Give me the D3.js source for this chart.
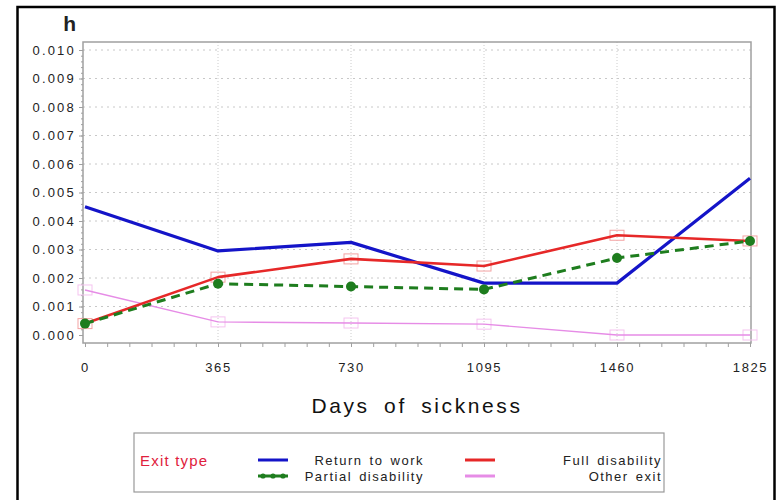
<!DOCTYPE html>
<html>
<head>
<meta charset="utf-8">
<script src="https://cdn.jsdelivr.net/npm/d3@7"></script>
<style>
  body { margin: 0; background: #fff; }
  svg { display: block; font-family: "Liberation Sans", Arial, sans-serif; }
</style>
</head>
<body>
<div id="chart"></div>
<script>
// days on the x axis
const days = [0, 365, 730, 1095, 1460, 1825];
const yTicks = [0, 0.001, 0.002, 0.003, 0.004, 0.005, 0.006, 0.007, 0.008, 0.009, 0.010];

// hazard per exit type
const returnToWork = [0.0045, 0.00295, 0.00325, 0.00182, 0.00182, 0.0055];
const fullDisability = [0.0004, 0.00203, 0.00267, 0.00242, 0.0035, 0.0033];
const partialDisability = [0.0004, 0.0018, 0.0017, 0.0016, 0.0027, 0.0033];
const otherExit = [0.00158, 0.00046, 0.00042, 0.00038, 0.0, 0.0];

const seriesNames = [`Return to work`, `Full disability`, `Partial disability`, `Other exit`];

const width = 778;
const height = 500;
const margin = { top: 42, right: 25, bottom: 157, left: 83 };

const series = [
  { name: seriesNames[0], values: returnToWork, color: `#1414c8`, width: 3.2, dash: null, marker: null },
  { name: seriesNames[1], values: fullDisability, color: `#e62828`, width: 2.6, dash: null, marker: `square`, markerColor: `#f3a3a3` },
  { name: seriesNames[2], values: partialDisability, color: `#1e7d1e`, width: 3, dash: `9,6`, marker: `dot` },
  { name: seriesNames[3], values: otherExit, color: `#e68ce6`, width: 1.4, dash: null, marker: `square`, markerColor: `#f5c4f0` },
];

const svg = d3.select(`#chart`)
  .append(`svg`)
  .attr(`width`, width)
  .attr(`height`, height);

// outer black border (bottom runs off the picture)
svg.append(`rect`)
  .attr(`x`, 17.5).attr(`y`, 7)
  .attr(`width`, 757).attr(`height`, 520)
  .attr(`fill`, `none`)
  .attr(`stroke`, `#000`)
  .attr(`stroke-width`, 2.5);

const frameLeft = margin.left;
const frameRight = width - margin.right - 2;
const frameTop = margin.top;
const frameBottom = height - margin.bottom;

const xScale = d3.scaleLinear()
  .domain([0, 1825])
  .range([frameLeft + 2, frameRight - 1]);

const yScale = d3.scaleLinear()
  .domain([0, 0.010])
  .range([frameBottom - 8, frameTop + 8]);

const bounds = svg.append(`g`);

// grid
bounds.append(`g`)
  .selectAll(`line`)
  .data(yTicks.slice(1))
  .join(`line`)
  .attr(`x1`, frameLeft).attr(`x2`, frameRight)
  .attr(`y1`, (d) => yScale(d)).attr(`y2`, (d) => yScale(d))
  .attr(`stroke`, `#c8c8c8`)
  .attr(`stroke-width`, 1)
  .attr(`stroke-dasharray`, `2,4`);

bounds.append(`g`)
  .selectAll(`line`)
  .data(days.slice(1, -1))
  .join(`line`)
  .attr(`x1`, (d) => xScale(d)).attr(`x2`, (d) => xScale(d))
  .attr(`y1`, frameTop).attr(`y2`, frameBottom)
  .attr(`stroke`, `#cccccc`)
  .attr(`stroke-width`, 1)
  .attr(`stroke-dasharray`, `1,2`);

// frame
bounds.append(`rect`)
  .attr(`x`, frameLeft).attr(`y`, frameTop)
  .attr(`width`, frameRight - frameLeft)
  .attr(`height`, frameBottom - frameTop)
  .attr(`fill`, `none`)
  .attr(`stroke`, `#a0a0a0`)
  .attr(`stroke-width`, 1.5);

// y axis
const yAxis = bounds.append(`g`)
  .attr(`transform`, `translate(${frameLeft}, 0)`)
  .call(d3.axisLeft(yScale).tickValues(yTicks).tickSize(4).tickPadding(3).tickFormat(d3.format(`.3f`)));
bounds.append(`g`)
  .attr(`transform`, `translate(${frameLeft}, 0)`)
  .call(d3.axisLeft(yScale).tickValues(d3.range(0, 0.0101, 0.0002)).tickSize(2).tickFormat(``))
  .call((g) => g.select(`.domain`).remove())
  .selectAll(`line`).attr(`stroke`, `#a0a0a0`);
yAxis.select(`.domain`).remove();
yAxis.selectAll(`line`).attr(`stroke`, `#a0a0a0`);
yAxis.selectAll(`text`)
  .attr(`fill`, `#222`)
  .style(`font-size`, `13px`)
  .style(`letter-spacing`, `2.2px`);

// x axis
const minorDays = d3.range(0, 1826, 365 / 6);
const xAxis = bounds.append(`g`)
  .attr(`transform`, `translate(0, ${frameBottom})`)
  .call(d3.axisBottom(xScale).tickValues(days).tickSize(4).tickPadding(16).tickFormat(d3.format(`d`)));
bounds.append(`g`)
  .attr(`transform`, `translate(0, ${frameBottom})`)
  .call(d3.axisBottom(xScale).tickValues(minorDays).tickSize(4).tickFormat(``))
  .call((g) => g.select(`.domain`).remove())
  .selectAll(`line`).attr(`stroke`, `#a0a0a0`);
xAxis.select(`.domain`).remove();
xAxis.selectAll(`line`).attr(`stroke`, `#a0a0a0`);
xAxis.selectAll(`text`)
  .attr(`fill`, `#222`)
  .style(`font-size`, `13px`)
  .style(`letter-spacing`, `1.6px`);

// axis titles
svg.append(`text`)
  .attr(`x`, 76).attr(`y`, 31)
  .attr(`text-anchor`, `end`)
  .style(`font-size`, `21px`)
  .style(`font-weight`, `bold`)
  .attr(`fill`, `#222`)
  .text(`h`);

svg.append(`text`)
  .attr(`x`, (frameLeft + frameRight) / 2)
  .attr(`y`, 413)
  .attr(`text-anchor`, `middle`)
  .style(`font-size`, `21px`)
  .style(`letter-spacing`, `2.6px`)
  .style(`word-spacing`, `6px`)
  .attr(`fill`, `#111`)
  .text(`Days of sickness`);

// lines
const lineGen = (vals) => d3.line()
  .x((d, i) => xScale(days[i]))
  .y((d) => yScale(d))(vals);

const plot = bounds.append(`g`);

// square markers sit below the lines
series.filter((s) => s.marker === `square`).forEach((s) => {
  plot.append(`g`)
    .selectAll(`rect`)
    .data(s.values)
    .join(`rect`)
    .attr(`x`, (d, i) => xScale(days[i]) - 7)
    .attr(`y`, (d) => yScale(d) - 5)
    .attr(`width`, 14).attr(`height`, 10)
    .attr(`fill`, `none`)
    .attr(`stroke`, s.markerColor)
    .attr(`stroke-width`, 1);
});

// draw order: other, return, full, partial
[3, 0, 1, 2].forEach((k) => {
  const s = series[k];
  plot.append(`path`)
    .attr(`d`, lineGen(s.values))
    .attr(`fill`, `none`)
    .attr(`stroke`, s.color)
    .attr(`stroke-width`, s.width)
    .attr(`stroke-dasharray`, s.dash)
    .attr(`stroke-linejoin`, `round`);
});

plot.append(`g`)
  .selectAll(`circle`)
  .data(partialDisability)
  .join(`circle`)
  .attr(`cx`, (d, i) => xScale(days[i]))
  .attr(`cy`, (d) => yScale(d))
  .attr(`r`, 5)
  .attr(`fill`, series[2].color);

// legend
const legend = svg.append(`g`);
legend.append(`rect`)
  .attr(`x`, 134).attr(`y`, 433)
  .attr(`width`, 530).attr(`height`, 59)
  .attr(`fill`, `#fff`)
  .attr(`stroke`, `#999`)
  .attr(`stroke-width`, 1.2);

legend.append(`text`)
  .attr(`x`, 140).attr(`y`, 466)
  .style(`font-size`, `15px`)
  .style(`letter-spacing`, `1.2px`)
  .attr(`fill`, `#e0203c`)
  .text(`Exit type`);

const legendItems = [
  { s: series[0], col: 0, row: 0 },
  { s: series[1], col: 1, row: 0 },
  { s: series[2], col: 0, row: 1 },
  { s: series[3], col: 1, row: 1 },
];
const colSample = [258, 465];
const colTextEnd = [424, 662];
const rowY = [460, 476];

legendItems.forEach(({ s, col, row }) => {
  const y = rowY[row];
  legend.append(`line`)
    .attr(`x1`, colSample[col]).attr(`x2`, colSample[col] + 30)
    .attr(`y1`, y).attr(`y2`, y)
    .attr(`stroke`, s.color)
    .attr(`stroke-width`, 3);
  if (s.marker === `dot`) {
    legend.selectAll(null)
      .data([5, 15, 25])
      .join(`circle`)
      .attr(`cx`, (d) => colSample[col] + d)
      .attr(`cy`, y)
      .attr(`r`, 2.6)
      .attr(`fill`, s.color);
  }
  legend.append(`text`)
    .attr(`x`, colTextEnd[col]).attr(`y`, y + 4.5)
    .attr(`text-anchor`, `end`)
    .style(`font-size`, `13px`)
    .style(`letter-spacing`, `1.5px`)
    .style(`word-spacing`, `2px`)
    .attr(`fill`, `#222`)
    .text(s.name);
});
</script>
</body>
</html>
